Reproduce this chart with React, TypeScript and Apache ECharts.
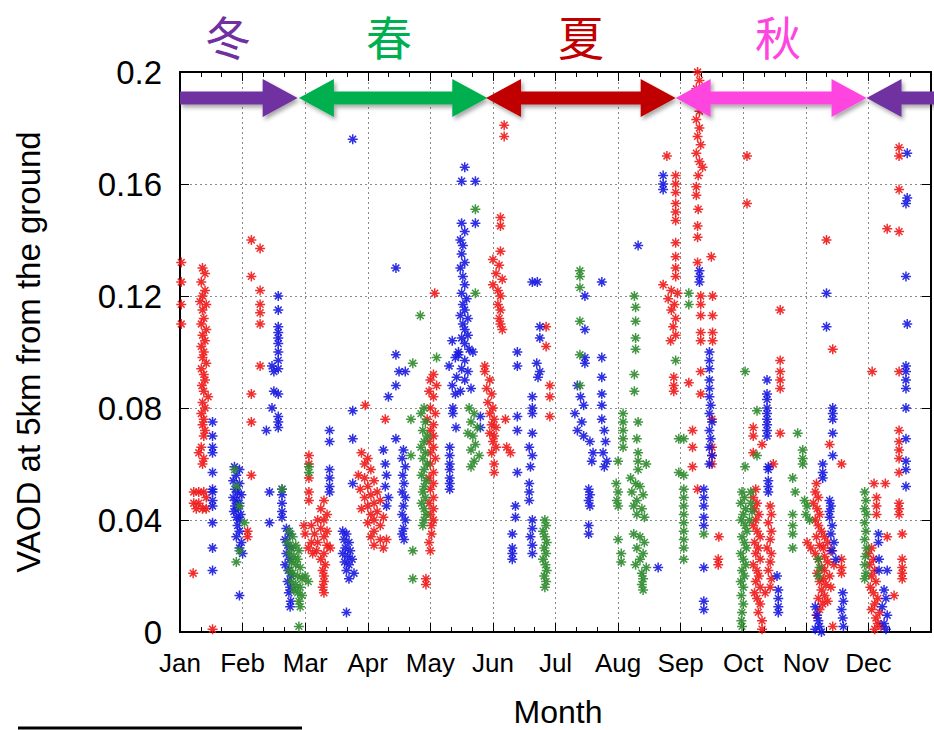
import React, { useEffect, useRef } from "react";
import * as echarts from "echarts";

const MONTHS = ["Jan", "Feb", "Mar", "Apr", "May", "Jun", "Jul", "Aug", "Sep", "Oct", "Nov", "Dec"];
const SEASONS = ["冬", "春", "夏", "秋"];
const SEASON_COLORS = ["#7030A0", "#00B050", "#C00000", "#FF45E0"];
// [start month, end month, arrow height (VAOD), left head, right head, colour index]
const SEASON_ARROWS = [
  [0, 1.88, 0.1907, 0, 1, 0],
  [1.9, 4.91, 0.1907, 1, 1, 1],
  [4.89, 7.92, 0.1907, 1, 1, 2],
  [7.92, 10.97, 0.1907, 1, 1, 3],
  [10.97, 12.3, 0.1907, 1, 0, 0],
];
const Y_TITLE = "VAOD at 5km from the ground";
const X_TITLE = "Month";

const RED_POINTS = [
  [0.02,0.132],[0.02,0.125],[0.02,0.117],[0.02,0.11],
  [0.36,0.13],[0.4,0.128],[0.34,0.125],[0.4,0.122],[0.36,0.12],[0.32,0.118],[0.42,0.117],[0.36,0.115],[0.38,0.112],[0.34,0.11],[0.42,0.108],[0.36,0.106],[0.4,0.104],[0.34,0.102],[0.38,0.1],[0.36,0.098],[0.42,0.096],[0.34,0.094],[0.38,0.092],[0.4,0.09],[0.35,0.088],[0.38,0.086],[0.45,0.084],[0.36,0.082],[0.4,0.08],[0.34,0.078],[0.38,0.076],[0.36,0.074],[0.4,0.072],[0.38,0.07],[0.34,0.066],[0.3,0.064],[0.38,0.062],[0.36,0.06],
  [0.22,0.05],[0.3,0.05],[0.38,0.05],[0.22,0.046],[0.3,0.046],[0.42,0.048],[0.26,0.044],[0.36,0.044],[0.42,0.044],[0.21,0.021],[0.52,0.001],
  [1.14,0.14],[1.28,0.137],[1.14,0.127],[1.28,0.122],[1.28,0.117],[1.28,0.114],[1.28,0.11],[1.28,0.095],[1.14,0.085],[1.14,0.075],[1.14,0.056],[1.08,0.034],[1.08,0.036],
  [2.06,0.063],[2.06,0.06],[2.06,0.055],[2.06,0.05],[2.06,0.047],[2.3,0.047],[2.25,0.044],[2.35,0.042],[2.2,0.04],[2.3,0.04],[2.1,0.038],[2.25,0.037],[2.35,0.036],[2.0,0.035],[2.15,0.035],[2.3,0.034],[2.1,0.032],[2.2,0.032],[2.35,0.031],[2.05,0.03],[2.18,0.029],[2.3,0.028],[2.25,0.026],[2.32,0.024],[2.28,0.022],[2.3,0.02],[2.3,0.018],[2.28,0.016],[2.3,0.014],[1.98,0.038],[2.12,0.028],[2.4,0.03],
  [2.96,0.081],[3.28,0.076],
  [2.9,0.064],[3.0,0.062],[2.95,0.06],[3.05,0.058],[2.85,0.056],[2.95,0.055],[3.1,0.054],[3.0,0.052],[2.88,0.051],[3.15,0.05],[3.05,0.049],[2.95,0.048],[3.2,0.047],[3.1,0.046],[3.0,0.045],[2.9,0.044],[3.15,0.043],[3.05,0.042],[3.25,0.041],[3.1,0.04],[3.0,0.039],[3.2,0.038],[3.1,0.036],[3.05,0.034],[3.2,0.033],[3.1,0.031],[3.25,0.03],[3.3,0.033],
  [4.05,0.092],[4.0,0.09],[4.1,0.088],[3.98,0.086],[4.05,0.084],[4.0,0.08],[4.08,0.078],[3.95,0.076],[4.05,0.074],[4.0,0.072],[4.05,0.07],[3.98,0.068],[4.05,0.066],[4.0,0.064],[4.08,0.062],[4.0,0.06],[4.05,0.057],[3.98,0.055],[4.05,0.053],[4.0,0.051],[4.05,0.048],[3.98,0.046],[4.05,0.044],[4.0,0.042],[4.05,0.04],[4.02,0.038],[4.02,0.035],[3.98,0.032],[4.0,0.029],[3.93,0.019],[3.93,0.017],[4.07,0.121],
  [4.87,0.095],[4.95,0.09],[4.9,0.087],[4.98,0.085],[4.92,0.082],[5.0,0.08],[4.95,0.078],[5.02,0.076],[4.98,0.074],[5.05,0.073],[4.95,0.071],[5.02,0.07],[5.0,0.068],[5.05,0.066],[4.98,0.064],[5.02,0.06],[5.02,0.057],[5.2,0.076],[5.28,0.064],[5.22,0.066],
  [5.18,0.181],[5.18,0.177],[5.12,0.148],[5.12,0.145],[5.12,0.136],[5.0,0.133],[5.1,0.131],[5.05,0.128],[5.15,0.126],[5.0,0.124],[5.08,0.122],[5.12,0.12],[5.08,0.117],[5.12,0.115],[5.1,0.112],[5.12,0.11],[5.15,0.108],[4.87,0.093],
  [5.85,0.109],[5.85,0.102],[5.91,0.088],[5.91,0.084],[5.91,0.077],
  [7.78,0.17],[7.92,0.163],[7.92,0.16],[7.92,0.157],[7.92,0.153],[7.92,0.15],[7.92,0.147],[7.92,0.139],[7.92,0.134],[7.92,0.13],[7.92,0.127],[7.72,0.124],[7.85,0.122],[7.95,0.121],[7.8,0.119],[7.9,0.117],[7.85,0.115],[7.92,0.112],[7.88,0.109],[7.92,0.106],[7.84,0.104],
  [8.27,0.2],[8.3,0.197],[8.25,0.194],[8.28,0.19],[8.3,0.186],[8.25,0.183],[8.3,0.18],[8.27,0.177],[8.32,0.174],[8.25,0.171],[8.3,0.168],[8.35,0.166],[8.28,0.163],[8.25,0.159],[8.25,0.156],[8.28,0.151],[8.27,0.145],[8.27,0.141],[8.27,0.132],[8.49,0.134],[8.32,0.12],[8.32,0.117],[8.32,0.113],[8.51,0.12],[8.51,0.113],[8.32,0.107],[8.32,0.104],[8.51,0.107],[8.51,0.104],
  [7.89,0.091],[7.89,0.088],[7.89,0.086],[8.13,0.089],[8.32,0.093],[8.32,0.085],[8.5,0.076],[8.5,0.066],[8.5,0.063],[8.5,0.06],[8.19,0.072],[8.19,0.066],[8.19,0.059],[8.27,0.051],[8.61,0.034],[8.6,0.026],[8.6,0.024],
  [9.06,0.17],[9.06,0.153],[9.59,0.115],[9.59,0.097],[9.59,0.093],[9.59,0.09],[9.59,0.087],[9.16,0.073],[9.16,0.07],[9.3,0.067],[9.16,0.064],[9.59,0.071],[9.48,0.06],
  [9.2,0.051],[9.16,0.048],[9.22,0.046],[9.18,0.044],[9.25,0.042],[9.2,0.04],[9.16,0.038],[9.22,0.036],[9.27,0.034],[9.18,0.032],[9.24,0.03],[9.2,0.028],[9.27,0.026],[9.16,0.024],[9.22,0.022],[9.25,0.02],[9.2,0.018],[9.27,0.016],[9.18,0.014],[9.22,0.012],[9.27,0.01],[9.24,0.007],[9.3,0.004],[9.3,0.001],
  [9.43,0.045],[9.45,0.042],[9.4,0.039],[9.45,0.036],[9.43,0.033],[9.38,0.03],[9.45,0.028],[9.43,0.025],[9.4,0.022],[9.45,0.019],[9.43,0.016],[9.35,0.014],
  [10.33,0.14],[10.43,0.101],[10.38,0.067],[10.57,0.06],
  [10.17,0.053],[10.15,0.05],[10.2,0.048],[10.12,0.046],[10.18,0.044],[10.22,0.042],[10.15,0.04],[10.2,0.038],[10.25,0.036],[10.3,0.034],[10.17,0.034],[10.35,0.032],[10.22,0.031],[10.28,0.03],[10.4,0.029],[10.15,0.028],[10.3,0.027],[10.2,0.026],[10.35,0.025],[10.45,0.024],[10.25,0.023],[10.3,0.022],[10.18,0.021],[10.38,0.02],[10.28,0.019],[10.22,0.018],[10.32,0.017],[10.4,0.016],[10.25,0.015],[10.3,0.013],[10.2,0.012],[10.35,0.011],[10.27,0.01],[10.22,0.008],[10.17,0.006],[10.43,0.002],[10.57,0.026],[10.57,0.023],[10.57,0.021],[10.08,0.03],[10.02,0.032],
  [11.49,0.173],[11.49,0.17],[11.49,0.158],[11.3,0.144],[11.49,0.143],[11.06,0.093],[11.49,0.093],[11.49,0.072],[11.49,0.068],[11.49,0.065],[11.49,0.062],[11.49,0.057],[11.09,0.053],[11.27,0.053],[11.13,0.048],[11.13,0.045],[11.13,0.042],[11.49,0.046],[11.49,0.044],[11.49,0.042],[11.54,0.035],[11.3,0.034],[11.54,0.026],[11.54,0.023],[11.54,0.021],[11.54,0.019],[11.41,0.013],
  [11.05,0.03],[11.0,0.028],[11.08,0.026],[11.02,0.024],[11.1,0.022],[11.05,0.02],[11.12,0.018],[11.03,0.016],[11.08,0.014],[11.15,0.012],[11.1,0.01],[11.05,0.008],[11.18,0.007],[11.12,0.005],[11.15,0.003],[11.1,0.001],[11.2,0.002],
];

const BLUE_POINTS = [
  [0.52,0.075],[0.52,0.07],[0.52,0.066],[0.52,0.064],[0.52,0.057],[0.52,0.051],[0.52,0.05],[0.52,0.047],[0.52,0.045],[0.52,0.039],[0.52,0.03],[0.52,0.022],
  [0.87,0.059],[0.95,0.058],[0.9,0.056],[0.85,0.054],[0.95,0.053],[0.88,0.051],[0.92,0.05],[0.98,0.049],[0.85,0.048],[0.9,0.047],[0.95,0.046],[0.88,0.045],[0.93,0.044],[0.86,0.043],[0.97,0.042],[0.9,0.041],[0.95,0.04],[0.92,0.038],[0.95,0.036],[0.9,0.034],[0.98,0.032],[0.95,0.03],[1.0,0.028],[0.95,0.013],
  [1.57,0.12],[1.57,0.115],[1.57,0.109],[1.57,0.107],[1.57,0.105],[1.57,0.103],[1.57,0.1],[1.57,0.097],[1.47,0.095],[1.5,0.093],[1.57,0.094],[1.5,0.086],[1.57,0.085],[1.47,0.08],[1.57,0.077],[1.57,0.075],[1.57,0.073],[1.38,0.072],[1.43,0.05],[1.43,0.039],[1.63,0.051],[1.63,0.049],[1.63,0.046],[1.63,0.043],[1.63,0.041],
  [1.7,0.037],[1.75,0.035],[1.68,0.033],[1.72,0.031],[1.78,0.03],[1.7,0.028],[1.75,0.026],[1.68,0.024],[1.73,0.022],[1.78,0.02],[1.72,0.018],[1.76,0.016],[1.74,0.014],[1.77,0.011],[1.76,0.009],
  [2.76,0.176],[3.45,0.13],[2.39,0.072],[2.39,0.068],[2.39,0.058],[2.39,0.055],[2.39,0.052],[2.39,0.05],[2.76,0.079],[2.76,0.069],[2.76,0.053],
  [2.6,0.036],[2.66,0.035],[2.62,0.033],[2.7,0.032],[2.64,0.03],[2.72,0.029],[2.6,0.028],[2.68,0.027],[2.75,0.026],[2.63,0.025],[2.7,0.024],[2.66,0.022],[2.78,0.021],[2.7,0.019],[2.66,0.007],
  [3.45,0.069],[3.33,0.084],[3.45,0.088],[3.45,0.099],[3.5,0.093],[3.6,0.093],[3.25,0.065],[3.28,0.06],[3.3,0.056],[3.28,0.052],[3.33,0.048],[3.3,0.045],
  [3.57,0.065],[3.55,0.062],[3.6,0.059],[3.56,0.056],[3.58,0.053],[3.55,0.05],[3.6,0.048],[3.57,0.045],[3.55,0.042],[3.6,0.04],[3.57,0.037],[3.55,0.035],[3.58,0.033],
  [4.31,0.066],[4.31,0.063],[4.31,0.06],[4.31,0.058],[4.31,0.055],[4.31,0.053],[4.31,0.051],[4.36,0.08],[4.36,0.078],[4.41,0.073],
  [4.35,0.104],[4.45,0.1],[4.4,0.098],[4.55,0.097],[4.3,0.095],[4.5,0.094],[4.6,0.093],[4.42,0.091],[4.55,0.09],[4.35,0.088],[4.65,0.087],[4.48,0.086],[4.4,0.085],
  [4.5,0.146],[4.55,0.143],[4.48,0.14],[4.52,0.138],[4.5,0.135],[4.55,0.132],[4.48,0.13],[4.52,0.127],[4.55,0.124],[4.5,0.121],[4.58,0.119],[4.52,0.117],[4.55,0.115],[4.48,0.113],[4.6,0.112],[4.52,0.11],[4.55,0.108],[4.6,0.106],[4.5,0.105],[4.55,0.103],[4.62,0.101],[4.68,0.1],[4.45,0.099],
  [4.55,0.166],[4.5,0.161],[4.72,0.161],[4.72,0.146],[4.8,0.077],[4.8,0.073],
  [5.39,0.1],[5.39,0.095],[5.63,0.125],[5.71,0.125],[5.75,0.109],[5.75,0.105],[5.7,0.096],[5.75,0.093],[5.72,0.091],[5.39,0.077],[5.39,0.072],[5.39,0.057],[5.63,0.084],[5.63,0.08],[5.63,0.078],[5.63,0.071],[5.58,0.066],[5.63,0.063],[5.6,0.059],[5.58,0.053],[5.58,0.05],[5.58,0.047],[5.36,0.045],[5.36,0.041],[5.31,0.035],[5.31,0.03],[5.31,0.028],[5.31,0.026],[5.63,0.04],[5.63,0.037],[5.6,0.034],[5.63,0.031],[5.63,0.028],
  [6.47,0.12],[6.74,0.125],[6.47,0.108],[6.47,0.098],[6.47,0.096],[6.74,0.098],[6.74,0.091],[6.35,0.088],[6.4,0.084],[6.45,0.081],[6.31,0.078],[6.42,0.075],[6.35,0.072],[6.45,0.07],[6.74,0.085],[6.74,0.081],[6.74,0.076],[6.78,0.072],[6.8,0.068],[6.76,0.064],[6.82,0.061],[6.78,0.059],[6.55,0.068],[6.6,0.064],[6.58,0.061],[6.53,0.051],[6.55,0.049],[6.53,0.047],[6.55,0.045],[6.53,0.038],[6.53,0.035],
  [7.32,0.138],[7.64,0.023],
  [7.72,0.163],[7.72,0.16],[7.72,0.158],[8.3,0.129],[8.3,0.127],[8.3,0.125],[8.46,0.1],[8.46,0.097],[8.46,0.094],[8.46,0.09],[8.46,0.087],[8.46,0.084],[8.48,0.081],[8.46,0.078],[8.5,0.075],[8.46,0.072],[8.48,0.069],[8.46,0.066],[8.5,0.063],[8.46,0.06],[8.37,0.051],[8.37,0.048],[8.37,0.045],[8.37,0.041],[8.37,0.038],[8.37,0.023],[8.37,0.011],[8.37,0.008],
  [9.38,0.09],[9.38,0.085],[9.38,0.083],[9.38,0.08],[9.38,0.078],[9.38,0.076],[9.38,0.074],[9.38,0.072],[9.38,0.07],[9.4,0.059],[9.4,0.058],[9.4,0.054],[9.4,0.052],[9.4,0.05],[9.54,0.02],[9.56,0.015],[9.56,0.012],[9.56,0.009],[9.56,0.007],
  [10.33,0.121],[10.33,0.109],[10.43,0.08],[10.43,0.078],[10.43,0.076],[10.43,0.071],[10.43,0.063],[10.27,0.06],[10.27,0.057],[10.27,0.055],[10.38,0.047],[10.4,0.045],[10.38,0.043],[10.38,0.041],[10.42,0.038],[10.4,0.035],[10.45,0.032],[10.42,0.029],[10.48,0.026],[10.15,0.009],[10.18,0.006],[10.2,0.004],[10.22,0.002],[10.15,0.001],[10.25,0.0],[10.59,0.014],[10.6,0.011],[10.57,0.008],[10.59,0.005],[10.6,0.002],
  [11.62,0.171],[11.62,0.155],[11.6,0.153],[11.6,0.127],[11.62,0.11],[11.6,0.095],[11.6,0.093],[11.6,0.09],[11.6,0.087],[11.6,0.08],[11.6,0.069],[11.6,0.061],[11.6,0.058],[11.6,0.052],[11.16,0.035],[11.16,0.032],[11.17,0.026],[11.17,0.022],[11.3,0.022],[11.25,0.015],[11.28,0.012],[11.22,0.009],[11.3,0.006],[11.25,0.003],[11.28,0.001],
];

const GREEN_POINTS = [
  [0.87,0.058],[0.9,0.052],[0.95,0.045],[1.03,0.039],[0.95,0.029],[0.9,0.025],
  [1.63,0.051],
  [1.75,0.036],[1.8,0.034],[1.72,0.032],[1.85,0.031],[1.78,0.03],[1.9,0.029],[1.75,0.028],[1.82,0.027],[1.88,0.026],[1.78,0.025],[1.85,0.024],[1.92,0.023],[1.75,0.022],[1.8,0.021],[1.88,0.02],[1.95,0.019],[1.78,0.018],[1.85,0.017],[1.92,0.016],[1.82,0.015],[1.88,0.014],[1.95,0.013],[1.9,0.011],[1.92,0.009],[1.9,0.002],[2.0,0.02],[2.05,0.018],
  [2.06,0.059],[2.06,0.057],
  [3.72,0.096],[3.69,0.076],[3.69,0.063],[3.72,0.029],[3.72,0.019],
  [3.9,0.08],[3.85,0.078],[3.92,0.075],[3.88,0.072],[3.95,0.07],[3.9,0.068],[3.85,0.066],[3.92,0.064],[3.88,0.062],[3.95,0.06],[3.9,0.058],[3.86,0.056],[3.93,0.054],[3.9,0.052],[3.88,0.05],[3.92,0.048],[3.86,0.046],[3.9,0.044],[3.93,0.042],[3.9,0.04],[3.88,0.038],[4.1,0.098],[3.84,0.113],
  [4.62,0.08],[4.7,0.078],[4.65,0.075],[4.75,0.073],[4.6,0.071],[4.68,0.07],[4.72,0.067],[4.65,0.065],[4.78,0.063],[4.7,0.061],[4.65,0.059],[4.72,0.151],[4.72,0.121],
  [5.83,0.04],[5.85,0.038],[5.8,0.036],[5.83,0.034],[5.86,0.032],[5.82,0.03],[5.85,0.028],[5.8,0.026],[5.84,0.024],[5.86,0.022],[5.82,0.02],[5.85,0.018],[5.83,0.016],
  [6.39,0.129],[6.39,0.127],[6.39,0.123],[6.39,0.111],[6.39,0.099],[6.39,0.088],
  [7.26,0.12],[7.28,0.116],[7.28,0.111],[7.28,0.105],[7.28,0.101],[7.26,0.092],[7.26,0.086],[7.08,0.078],[7.08,0.075],[7.08,0.072],[7.08,0.069],[7.08,0.066],[7.32,0.075],[7.3,0.069],[7.0,0.061],[7.32,0.064],[7.32,0.061],[7.45,0.06],[7.32,0.058],[6.97,0.053],[7.0,0.05],[6.98,0.047],[7.0,0.045],[7.2,0.055],[7.28,0.053],[7.35,0.052],[7.22,0.05],[7.4,0.049],[7.3,0.047],[7.25,0.045],[7.38,0.044],[7.3,0.042],[7.42,0.041],[7.0,0.033],[7.05,0.028],[7.05,0.025],[7.25,0.035],[7.35,0.034],[7.42,0.032],[7.3,0.03],[7.4,0.028],[7.35,0.026],[7.28,0.024],[7.45,0.023],[7.38,0.021],[7.4,0.019],[7.38,0.017],[7.4,0.015],
  [8.13,0.121],[8.13,0.117],[7.92,0.097],[7.97,0.069],[7.97,0.057],[8.05,0.069],[8.05,0.056],[8.05,0.051],[8.05,0.048],[8.05,0.045],[8.05,0.042],[8.05,0.039],[8.05,0.036],[8.05,0.033],[8.05,0.03],[8.05,0.026],[8.37,0.035],
  [9.03,0.093],[9.22,0.079],[9.03,0.059],[9.22,0.063],
  [8.98,0.05],[9.02,0.048],[8.96,0.046],[9.04,0.044],[9.0,0.042],[8.97,0.04],[9.03,0.038],[9.06,0.036],[8.98,0.034],[9.02,0.032],[9.05,0.03],[8.96,0.028],[9.0,0.026],[9.04,0.024],[8.98,0.022],[9.02,0.02],[8.96,0.018],[9.0,0.016],[8.97,0.013],[9.0,0.01],[8.98,0.007],[8.97,0.004],[8.98,0.002],[9.12,0.05],[9.12,0.046],[9.14,0.043],[9.1,0.04],
  [9.79,0.055],[9.83,0.05],[9.87,0.071],[9.95,0.065],[9.95,0.062],[9.95,0.06],[9.79,0.042],[9.79,0.038],[9.79,0.035],[9.79,0.03],[9.98,0.047],[10.02,0.045],[10.0,0.042],[10.06,0.04],[10.2,0.026],[10.22,0.023],[10.2,0.02],
  [10.94,0.05],[10.96,0.047],[10.94,0.044],[10.97,0.042],[10.94,0.039],[10.96,0.036],[10.94,0.033],[10.97,0.03],[10.95,0.027],[10.94,0.024],[10.96,0.021],[10.94,0.019],
];

const ASTERISK = "path://M0,5L10,5M5,0L5,10M1.6,1.6L8.4,8.4M8.4,1.6L1.6,8.4";
const FONT = "Liberation Sans, Arial, Helvetica, sans-serif";

function scatter(name: string, data: number[][], color: string) {
  return {
    name,
    type: "scatter",
    data,
    symbol: ASTERISK,
    symbolSize: 10,
    itemStyle: { color: "transparent", borderColor: color, borderWidth: 1.5, opacity: 0.9 },
    xAxisIndex: 0,
    yAxisIndex: 0,
    z: 3,
  };
}

export default function App() {
  const ref = useRef<HTMLDivElement>(null);
  useEffect(() => {
    if (!ref.current) return;
    const chart = echarts.init(ref.current, null, { renderer: "svg" });
    const tickStyle = { show: true, inside: true, length: 9, lineStyle: { color: "#000", width: 1 } };
    const option = {
      animation: false,
      backgroundColor: "#fff",
      grid: { left: 180, top: 72, width: 757, height: 560, containLabel: false },
      xAxis: [
        {
          type: "value", min: 0, max: 12, interval: 1, position: "bottom",
          axisLine: { show: true, onZero: false, lineStyle: { color: "#000", width: 2 } },
          axisTick: tickStyle,
          minorTick: { show: true, splitNumber: 3, length: 5, lineStyle: { color: "#000", width: 1 } },
          splitLine: { show: true, lineStyle: { color: "#8a8a8a", type: [2, 3], width: 1 } },
          axisLabel: {
            color: "#000", fontSize: 26, fontFamily: FONT, margin: 18,
            formatter: (v: number) => MONTHS[Math.round(v)] ?? "",
          },
        },
        {
          type: "value", min: 0, max: 12, interval: 1, position: "top",
          axisLine: { show: true, onZero: false, lineStyle: { color: "#000", width: 2 } },
          axisTick: tickStyle,
          minorTick: { show: true, splitNumber: 3, length: 5, lineStyle: { color: "#000", width: 1 } },
          splitLine: { show: false },
          axisLabel: { show: false },
        },
      ],
      yAxis: [
        {
          type: "value", min: 0, max: 0.2, interval: 0.04, position: "left",
          axisLine: { show: true, onZero: false, lineStyle: { color: "#000", width: 2 } },
          axisTick: tickStyle,
          splitLine: { show: true, lineStyle: { color: "#8a8a8a", type: [2, 3], width: 1 } },
          axisLabel: { color: "#000", fontSize: 33, fontFamily: FONT, margin: 18 },
        },
        {
          type: "value", min: 0, max: 0.2, interval: 0.04, position: "right",
          axisLine: { show: true, onZero: false, lineStyle: { color: "#000", width: 2 } },
          axisTick: tickStyle,
          splitLine: { show: false },
          axisLabel: { show: false },
        },
      ],
      series: [
        scatter("red", RED_POINTS, "#F01818"),
        scatter("blue", BLUE_POINTS, "#1818E0"),
        scatter("green", GREEN_POINTS, "#2E8B2E"),
        {
          type: "custom",
          xAxisIndex: 0,
          yAxisIndex: 0,
          z: 5,
          clip: false,
          data: SEASON_ARROWS,
          encode: { x: [0, 1], y: 2 },
          renderItem: (params: any, api: any) => {
            const p1 = api.coord([api.value(0), api.value(2)]);
            const p2 = api.coord([api.value(1), api.value(2)]);
            const xa = p1[0], xb = p2[0], c = p1[1];
            const h = 6.5, H = 19, L = 35;
            const lh = api.value(3) === 1, rh = api.value(4) === 1;
            const pts: number[][] = [];
            if (lh) pts.push([xa, c], [xa + L, c - H], [xa + L, c - h]);
            else pts.push([xa, c - h]);
            if (rh) pts.push([xb - L, c - h], [xb - L, c - H], [xb, c], [xb - L, c + H], [xb - L, c + h]);
            else pts.push([xb, c - h], [xb, c + h]);
            if (lh) pts.push([xa + L, c + h], [xa + L, c + H]);
            else pts.push([xa, c + h]);
            return {
              type: "polygon",
              shape: { points: pts },
              style: {
                fill: SEASON_COLORS[api.value(5)],
                shadowBlur: 4, shadowOffsetX: 2, shadowOffsetY: 3, shadowColor: "rgba(0,0,0,0.35)",
              },
            };
          },
        },
      ],
      graphic: [
        ...SEASONS.map((s, i) => ({
          type: "text",
          left: [205, 366, 558, 755][i],
          top: 12,
          style: {
            text: s, fill: SEASON_COLORS[i], fontSize: 46,
            fontFamily: "Noto Sans CJK SC, sans-serif",
          },
        })),
        {
          type: "text",
          x: 558, y: 712,
          style: { text: X_TITLE, fill: "#000", fontSize: 32, fontFamily: FONT, align: "center", verticalAlign: "middle" },
        },
        {
          type: "text",
          x: 28, y: 352, rotation: Math.PI / 2,
          style: { text: Y_TITLE, fill: "#000", fontSize: 33, fontFamily: FONT, align: "center", verticalAlign: "middle" },
        },
        {
          type: "line",
          shape: { x1: 18, y1: 728, x2: 302, y2: 728 },
          style: { stroke: "#000", lineWidth: 3 },
        },
      ],
    };
    chart.setOption(option as any);
    return () => chart.dispose();
  }, []);
  return <div ref={ref} style={{ position: "fixed", left: 0, top: 0, width: 934, height: 730 }} />;
}
